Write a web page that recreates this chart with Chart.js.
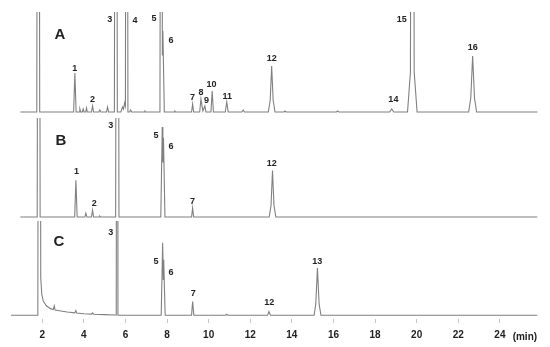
<!DOCTYPE html>
<html>
<head>
<meta charset="utf-8">
<script src="https://cdn.jsdelivr.net/npm/chart.js@4.4.1/dist/chart.umd.min.js"></script>
<style>
    body { margin: 0; background: #fff; }
    .panel { position: absolute; left: 0; width: 550px; }
    #wrapA { top: 12px; height: 103px; }
    #wrapB { top: 118px; height: 102px; }
    #wrapC { top: 221px; height: 126px; }
</style>
</head>
<body>
<div class="panel" id="wrapA"><canvas id="chartA"></canvas></div>
<div class="panel" id="wrapB"><canvas id="chartB"></canvas></div>
<div class="panel" id="wrapC"><canvas id="chartC"></canvas></div>
<script>
// Retention time (min) vs. detector signal (% of panel height).
// Off-scale peaks (solvent, 3, 4, 15) are given a large apex and get clipped.
const traceA = [
    [0.95, 0],
    [1.74, 0], [1.81, 1000], [1.88, 0],
    [3.51, 0], [3.57, 39], [3.63, 0],
    [3.77, 0], [3.81, 3], [3.85, 0],
    [3.93, 0], [3.97, 3], [4.01, 0],
    [4.09, 0], [4.13, 4], [4.17, 0],
    [4.37, 0], [4.42, 6], [4.47, 0],
    [4.72, 0], [4.77, 2], [4.82, 0],
    [5.09, 0], [5.14, 5], [5.19, 0],
    [5.47, 0], [5.54, 1000], [5.61, 0],
    [5.78, 0], [5.86, 5], [5.91, 3], [5.96, 9], [6.0, 6], [6.06, 1000], [6.12, 0],
    [6.20, 0], [6.25, 2], [6.30, 0],
    [6.90, 0], [6.94, 1], [6.98, 0],
    [7.66, 0], [7.74, 1000], [7.775, 57], [7.80, 81], [7.87, 0],
    [8.34, 0], [8.38, 1], [8.42, 0],
    [9.18, 0], [9.23, 8], [9.28, 0],
    [9.57, 0], [9.63, 13], [9.72, 1], [9.82, 6], [9.87, 0],
    [10.11, 0], [10.17, 21], [10.23, 0],
    [10.80, 0], [10.87, 10], [10.94, 0],
    [11.60, 0], [11.66, 2], [11.72, 0],
    [12.87, 0], [12.96, 12], [13.03, 46], [13.10, 12], [13.19, 0],
    [13.62, 0], [13.67, 1], [13.72, 0],
    [16.14, 0], [16.2, 1], [16.26, 0],
    [18.70, 0], [18.8, 3], [18.90, 0],
    [19.56, 0], [19.70, 40], [19.79, 1000], [19.88, 40], [20.02, 0],
    [22.50, 0], [22.60, 14], [22.69, 56], [22.78, 14], [22.88, 0],
    [25.8, 0]
];

const traceB = [
    [0.95, 0],
    [1.76, 0], [1.83, 1000], [1.90, 0],
    [3.56, 0], [3.62, 37], [3.68, 0],
    [4.05, 0], [4.10, 4], [4.15, 0],
    [4.37, 0], [4.42, 7], [4.47, 0],
    [4.73, 0], [4.77, 1], [4.81, 0],
    [5.53, 0], [5.61, 1000], [5.69, 0],
    [7.70, 0], [7.77, 91], [7.80, 55], [7.83, 80], [7.90, 0],
    [9.18, 0], [9.23, 9], [9.28, 0],
    [12.91, 0], [13.0, 12], [13.07, 47], [13.14, 12], [13.23, 0],
    [25.8, 0]
];

const traceC = [
    [0.5, 0],
    [1.79, 0], [1.855, 1000], [1.93, 40], [1.98, 22], [2.05, 15], [2.2, 10], [2.4, 7],
    [2.53, 6], [2.58, 10], [2.62, 5.5], [2.9, 4.5], [3.2, 3.5], [3.57, 2.5], [3.62, 5],
    [3.66, 2.3], [4.0, 1.6], [4.37, 1.2], [4.42, 2.5], [4.47, 1.1], [5.0, 0.6], [5.5, 0.3],
    [5.56, 0.3], [5.60, 1000], [5.64, 0],
    [7.72, 0], [7.79, 77], [7.82, 38], [7.84, 59], [7.91, 0],
    [9.18, 0], [9.23, 14.5], [9.29, 0],
    [10.82, 0], [10.87, 1], [10.92, 0],
    [12.83, 0], [12.9, 4], [12.97, 0],
    [15.07, 0], [15.15, 12], [15.23, 50], [15.31, 12], [15.40, 0],
    [25.8, 0]
];

// Peak numbers: [text, time, signal level]
const labelsA = [
    ['1', 3.57, 43], ['2', 4.42, 12], ['3', 5.25, 92.5], ['4', 6.46, 91.5],
    ['5', 7.37, 93], ['6', 8.19, 71.5], ['7', 9.23, 14], ['8', 9.63, 19.5],
    ['9', 9.9, 11.3], ['10', 10.14, 27], ['11', 10.89, 15.4], ['12', 13.03, 53],
    ['14', 18.88, 12], ['15', 19.28, 92], ['16', 22.69, 64]
];
const labelsB = [
    ['1', 3.65, 45.8], ['2', 4.5, 14.1], ['3', 5.3, 92.5], ['5', 7.47, 82],
    ['6', 8.19, 70.7], ['7', 9.23, 15.8], ['12', 13.03, 53.8]
];
const labelsC = [
    ['3', 5.3, 87.6], ['5', 7.47, 57], ['6', 8.19, 45.5], ['7', 9.26, 23],
    ['12', 12.91, 13.5], ['13', 15.22, 57.5]
];

const panelLetters = ['A', 'B', 'C'];
const letterTimes = [2.85, 2.9, 2.8];
const letterLevels = [77, 77, 77.6];

const xTickValues = [2, 4, 6, 8, 10, 12, 14, 16, 18, 20, 22, 24];
const unitLabel = '(min)';
const unitTime = 25.2;

const FONT = "'Liberation Sans', Arial, sans-serif";

const peakLabels = {
    id: 'peakLabels',
    afterDatasetsDraw(chart, args, opts) {
        const { ctx, scales } = chart;
        ctx.save();
        ctx.fillStyle = '#222';
        ctx.textAlign = 'center';
        ctx.textBaseline = 'middle';
        ctx.font = `bold 9px ${FONT}`;
        opts.labels.forEach(([text, t, v]) => {
            ctx.fillText(text, scales.x.getPixelForValue(t), scales.y.getPixelForValue(v));
        });
        ctx.font = `bold 15px ${FONT}`;
        ctx.fillText(opts.letter, scales.x.getPixelForValue(opts.letterTime), scales.y.getPixelForValue(opts.letterLevel));
        if (opts.unit) {
            // sits on the same line as the tick labels
            const yTick = scales.x.bottom - 10;
            ctx.font = `bold 10px ${FONT}`;
            ctx.fillText(opts.unit, scales.x.getPixelForValue(unitTime), yTick);
        }
        ctx.restore();
    }
};

function makePanel(canvasId, trace, labels, index, showAxis) {
    return new Chart(document.getElementById(canvasId), {
        type: 'line',
        data: {
            datasets: [{
                data: trace.map(([t, v]) => ({ x: t, y: v })),
                borderColor: '#808080',
                borderWidth: 1.1,
                pointRadius: 0,
                tension: 0
            }]
        },
        options: {
            responsive: true,
            maintainAspectRatio: false,
            animation: false,
            layout: { padding: { left: 11, right: 8.5, top: 0, bottom: 0 } },
            plugins: {
                legend: { display: false },
                tooltip: { enabled: false },
                peakLabels: {
                    labels: labels,
                    letter: panelLetters[index],
                    letterTime: letterTimes[index],
                    letterLevel: letterLevels[index],
                    unit: showAxis ? unitLabel : null
                }
            },
            scales: {
                x: {
                    type: 'linear',
                    min: 0.5,
                    max: 26,
                    display: showAxis,
                    afterBuildTicks: (scale) => {
                        scale.ticks = xTickValues.map(v => ({ value: v }));
                    },
                    border: { display: false },
                    grid: { drawOnChartArea: false, tickLength: 4, color: '#c4c4c4' },
                    ticks: {
                        padding: 6,
                        color: '#222',
                        maxRotation: 0,
                        font: { family: FONT, size: 10, weight: 'bold' }
                    }
                },
                y: {
                    display: false,
                    min: showAxis ? -4 : -3,
                    max: 100
                }
            }
        },
        plugins: [peakLabels]
    });
}

makePanel('chartA', traceA, labelsA, 0, false);
makePanel('chartB', traceB, labelsB, 1, false);
makePanel('chartC', traceC, labelsC, 2, true);
</script>
</body>
</html>
